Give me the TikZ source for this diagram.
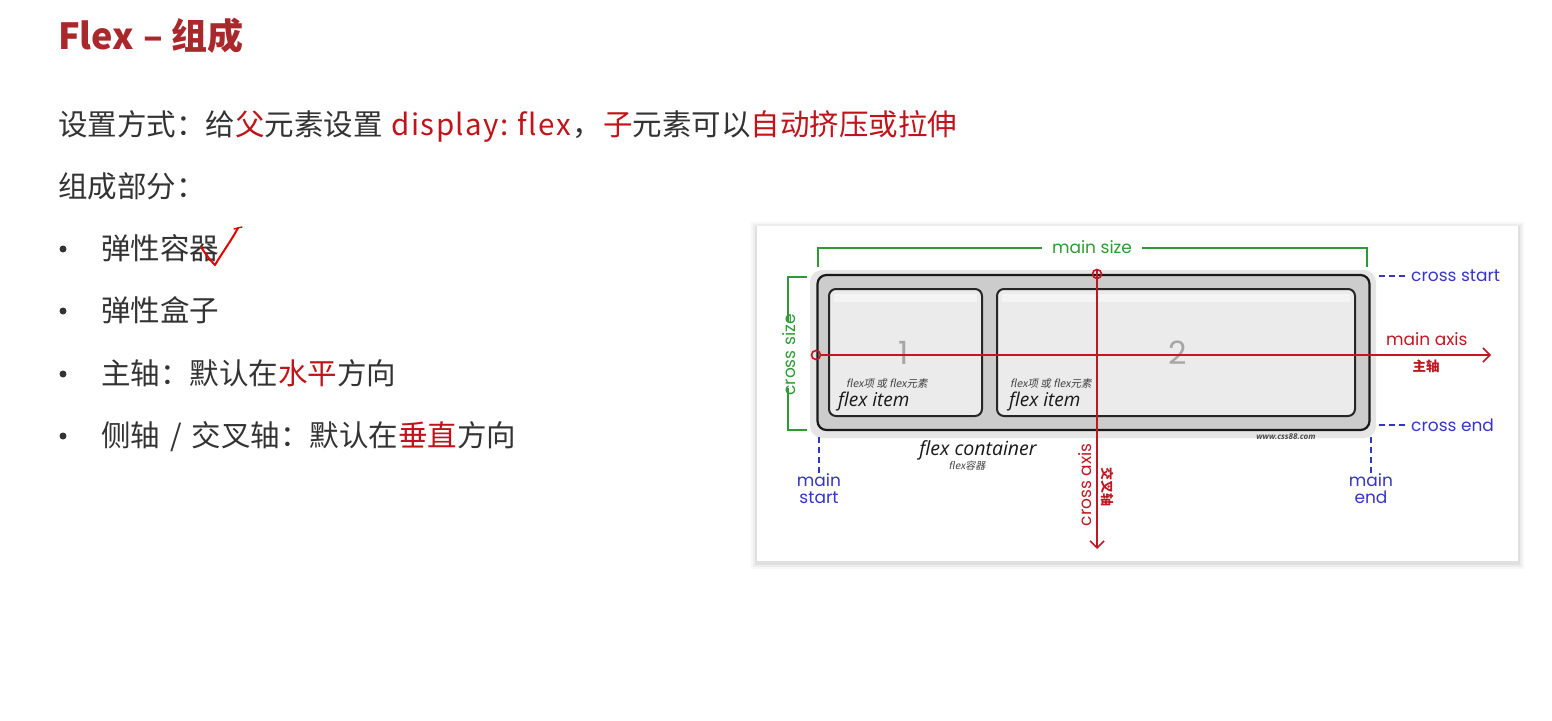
\documentclass[tikz,border=0pt]{standalone}
\usepackage{fontspec}
\setmainfont{Noto Sans CJK SC}
\newfontfamily\lbl{Poppins}
\newfontfamily\itl{Open Sans}
\newfontfamily\cjksl{Noto Sans CJK SC}[FakeSlant=0.2]
\usetikzlibrary{arrows.meta}
\definecolor{txt}{HTML}{333333}
\definecolor{hred}{HTML}{C0141A}
\definecolor{tred}{HTML}{A8282B}
\definecolor{gr}{HTML}{2E9A36}
\definecolor{bl}{HTML}{3535C8}
\definecolor{ax}{HTML}{C01822}
\makeatletter
\def\spacedtxt#1#2{\def\sp@k{#1}\spaced@i#2\relax}
\def\spaced@i#1{\ifx#1\relax\else#1\kern\sp@k\relax\expandafter\spaced@i\fi}
\makeatother
\tikzset{
  body/.style={anchor=base west, inner sep=0pt, text=txt, font=\fontsize{29.5}{32}\selectfont},
  bdot/.style={circle, fill=txt, inner sep=0pt, minimum size=7pt},
  glbl/.style={inner sep=0pt, text=gr, font=\lbl\fontsize{17}{19}\selectfont},
  blbl/.style={inner sep=0pt, text=bl, font=\lbl\fontsize{17}{19}\selectfont, align=center},
  rlbl/.style={inner sep=0pt, text=ax, font=\lbl\fontsize{17}{19}\selectfont},
  gline/.style={draw=gr, line width=1.6pt},
  bdash/.style={draw=bl, line width=1.6pt, dash pattern=on 6pt off 4pt},
  axline/.style={draw=ax, line width=1.6pt},
  itembox/.style={draw=black!85, line width=2pt, rounded corners=7pt, fill=black!8},
  numlbl/.style={text=black!35, font=\lbl\fontsize{32}{34}\selectfont, inner sep=0pt},
  smallcn/.style={anchor=base west, inner sep=0pt, text=black!75, font=\cjksl\fontsize{10.5}{12}\selectfont},
  itemlbl/.style={anchor=base west, inner sep=0pt, text=black!90, font=\itl\itshape\fontsize{19}{21}\selectfont},
}
\begin{document}
\begin{tikzpicture}[x=1pt,y=-1pt]
\useasboundingbox (0,0) rectangle (1552,720);
\fill[white] (0,0) rectangle (1552,720);

% title and text
\node[body, anchor=base west, text=tred, font=\bfseries\fontsize{36}{38}\selectfont] (title) at (58,49) {Flex\kern9pt–\kern9pt组成};
\node[body] (l1) at (58,135) {设置方式：给\textcolor{hred}{父}元素设置\kern9pt\textcolor{hred}{\spacedtxt{1.4pt}{display:}\kern8pt\spacedtxt{1.4pt}{flex}}，\kern1pt\textcolor{hred}{子}元素可以\textcolor{hred}{自动挤压或拉伸}};
\node[body] (l2) at (58,197) {组成部分：};

\node[bdot] (d1) at (63,249) {};
\node[bdot] (d2) at (63,311) {};
\node[bdot] (d3) at (63,374) {};
\node[bdot] (d4) at (63,436) {};
\node[body] (b1) at (101,259) {弹性容器};
\node[body] (b2) at (101,321) {弹性盒子};
\node[body] (b3) at (101,384) {主轴：默认在\textcolor{hred}{水平}方向};
\node[body] (b4) at (101,446) {侧轴\kern10pt/\kern10pt交叉轴：默认在\textcolor{hred}{垂直}方向};

% check mark
\draw[draw=red!90!black, line width=2pt, line cap=round, line join=round]
  (201,247) .. controls (205,253) and (209,259) .. (215,265)
  .. controls (222,253) and (231,241) .. (238,228);
\draw[draw=red!90!black, line width=1.4pt, line cap=round] (234,229) -- (242,227);

% card
\foreach \i/\o in {6/0.03,4/0.04,2/0.05}{
  \fill[black, opacity=\o] (757-\i,226-\i+2) rectangle (1518+\i,561+\i+2);
}
\fill[white] (757,226) rectangle (1518,561);

% container shadow blob
\fill[black!10, rounded corners=12pt] (810,270) rectangle (1376,438);
\node[draw=black!90, line width=2.2pt, rounded corners=9pt, fill=black!20,
      minimum width=552pt, minimum height=155pt, inner sep=0pt] (fc) at (1093.5,352.5) {};
\node[itembox, minimum width=153pt, minimum height=127pt, inner sep=0pt] (i1) at (905.5,352.5) {};
\node[itembox, minimum width=358pt, minimum height=127pt, inner sep=0pt] (i2) at (1176,352.5) {};
\fill[white, opacity=0.45] (834,294) rectangle (977,302);
\fill[white, opacity=0.45] (1002,294) rectangle (1350,302);

\node[numlbl] (n1) at (904,353) {1};
\node[numlbl] (n2) at (1178,353) {2};
\node[smallcn] (s1) at (846,387) {flex项 或 flex元素};
\node[smallcn] (s2) at (1010,387) {flex项 或 flex元素};
\node[itemlbl] (f1) at (838,406) {flex item};
\node[itemlbl] (f2) at (1009,406) {flex item};
\node[inner sep=0pt, text=black!90, font=\itl\itshape\fontsize{19.5}{21}\selectfont] (fcl) at (978,450) {flex container};
\node[inner sep=0pt, text=black!75, font=\cjksl\fontsize{10}{11}\selectfont] (fcc) at (967,466) {flex容器};
\node[inner sep=0pt, text=black!70, font=\itl\itshape\bfseries\fontsize{8}{9}\selectfont] (www) at (1286,437) {www.css88.com};

% main size bracket
\node[glbl] (msz) at (1092,247) {main size};
\coordinate (msl) at (818,267);
\coordinate (msr) at (1367,267);
\draw[gline] (msl) -- (818,248) -- ([xshift=-10pt]msz.west |- 0,248);
\draw[gline] ([xshift=10pt]msz.east |- 0,248) -- (1367,248) -- (msr);

% cross size bracket
\node[glbl, rotate=90] (csz) at (789,355) {cross size};
\draw[gline] (807,277) -- (788,277) -- ([yshift=-8pt]csz.east -| 788,0);
\draw[gline] ([yshift=8pt]csz.west -| 788,0) -- (788,430) -- (807,430);

% main / cross start/end
\node[blbl] (mst) at (819,489) {main\\[-2pt]start};
\node[blbl] (men) at (1371,489) {main\\[-2pt]end};
\draw[bdash] (819,437) -- ([yshift=-3pt]mst.north);
\draw[bdash] (1371,437) -- ([yshift=-3pt]men.north);
\node[blbl, anchor=west] (cst) at (1411,276) {cross start};
\node[blbl, anchor=west] (cen) at (1411,425) {cross end};
\draw[bdash] ([xshift=-6pt]cst.west) -- (1376,276);
\draw[bdash] ([xshift=-6pt]cen.west) -- (1376,425);

% axes
\coordinate (mas) at (816,355);
\coordinate (mae) at (1491,355);
\coordinate (cas) at (1097,274);
\coordinate (cae) at (1097,549);
\draw[axline, -{Straight Barb[length=7pt,width=14pt,line width=1.6pt]}] ([xshift=4.5pt]mas) -- (mae);
\draw[axline, -{Straight Barb[length=7pt,width=14pt,line width=1.6pt]}] ([yshift=4.5pt]cas) -- (cae);
\draw[axline] (mas) circle (4.5pt);
\draw[axline] (cas) circle (4.5pt);
\node[rlbl, anchor=base west] (mal) at (1386,345) {main axis};
\node[inner sep=0pt, text=ax, font=\bfseries\fontsize{13.5}{14}\selectfont] (zz) at (1426,366) {主轴};
\node[rlbl, rotate=90] (cal) at (1085,485) {cross axis};
\node[inner sep=0pt, text=ax, font=\bfseries\fontsize{13}{14}\selectfont, rotate=-90] (jc) at (1108,487) {交叉轴};
\end{tikzpicture}
\end{document}
